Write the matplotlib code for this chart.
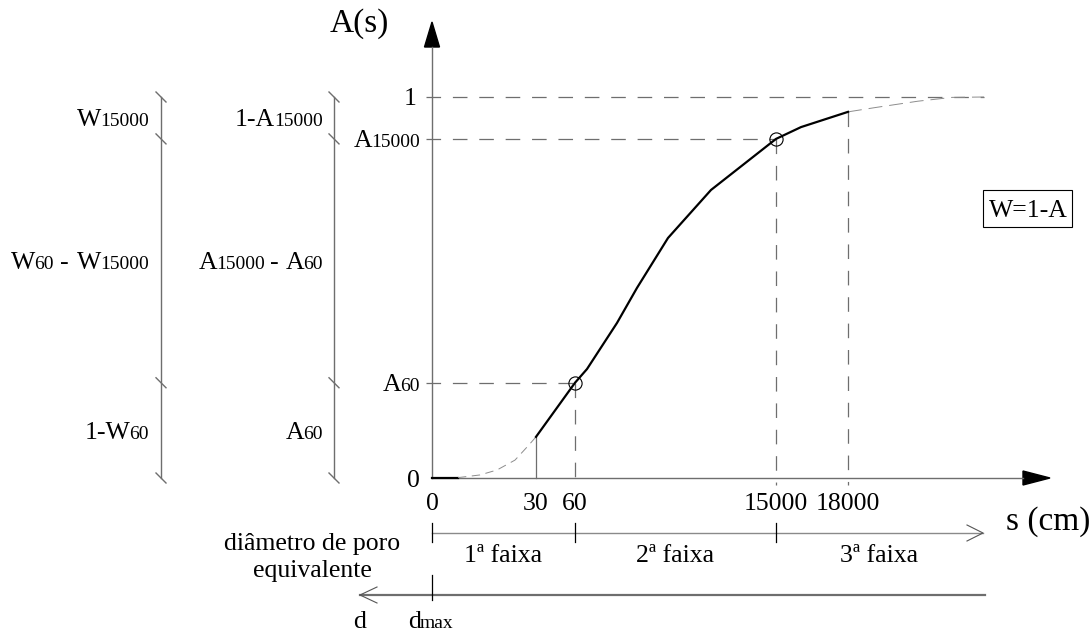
import matplotlib
matplotlib.use('Agg')
import matplotlib.pyplot as plt
from matplotlib.transforms import Affine2D, blended_transform_factory
from matplotlib.patches import Polygon, Rectangle

plt.rcParams['font.family'] = ['Liberation Serif', 'DejaVu Serif']
plt.rcParams['lines.scale_dashes'] = False

# retention curve A(s); x is the position along the (schematic, not to scale) s axis
s_ticks = ['0', '30', '60', '15000', '18000']
s_pos = [0, 104, 143, 344, 416]

curve_pos = [104, 143, 155, 185, 205, 236, 279, 344, 369, 416]
curve_a = [0.108, 0.25, 0.286, 0.407, 0.499, 0.630, 0.756, 0.89, 0.921, 0.961]

# extrapolated ends of the curve (dashed)
low_pos = [26, 48, 65, 83, 96, 104]
low_a = [0.001, 0.008, 0.021, 0.047, 0.084, 0.108]
high_pos = [416, 445, 486, 520, 552]
high_a = [0.961, 0.973, 0.989, 0.999, 1.0]

a60 = 0.25
a15000 = 0.89

faixas = ['1ª faixa', '2ª faixa', '3ª faixa']

W, H = 1092, 634
OX, OY, UNIT = 432, 478, 381     # origin of the graph in pixels, pixels per unit of A
L, S, BIG = 18.5, 14, 24         # normal, "subscript" and axis title font sizes
GRAY = '#6e6e6e'
DASH = (0, (10.5, 8.5))

fig = plt.figure(figsize=(W / 100, H / 100), dpi=100)
ax = fig.add_axes([0, 0, 1, 1])
ax.set_xlim(-OX, W - OX)
ax.set_ylim(-(H - OY) / UNIT, OY / UNIT)
ax.axis('off')

pix = Affine2D().scale(1 / W, -1 / H).translate(0, 1) + fig.transFigure
xdata = blended_transform_factory(ax.transData, pix)


def ypx(v):
    return OY - UNIT * v


def rich(x, y, parts, ha='left', trans=pix):
    # text made of pieces of different size sharing one baseline
    r = fig.canvas.get_renderer()
    items = []
    for s, size, gap in parts:
        t = fig.text(0, 0, s, fontsize=size)
        w = t.get_window_extent(r).width
        t.remove()
        items.append((s, size, w, gap))
    total = sum(w + g for _, _, w, g in items) - items[-1][3]
    dx = {'left': 0, 'right': -total, 'center': -total / 2}[ha]
    for s, size, w, gap in items:
        ax.text(x, y, s, fontsize=size, ha='left', va='baseline',
                transform=trans + Affine2D().translate(dx, 0))
        dx += w + gap


# axes with filled arrow heads
ax.plot([OX, 1023], [OY, OY], color=GRAY, lw=1, transform=pix)
ax.plot([OX, OX], [OY, 47], color=GRAY, lw=1, transform=pix)
ax.add_patch(Polygon([[1050, OY], [1023, OY - 7], [1023, OY + 7]], closed=True,
                     color='black', transform=pix))
ax.add_patch(Polygon([[OX, 22], [OX - 7.5, 47], [OX + 7.5, 47]], closed=True,
                     color='black', transform=pix))

# reference lines
ax.plot([-6, high_pos[-1]], [1, 1], color=GRAY, lw=0.9, ls=DASH)
ax.plot([-6, s_pos[3]], [a15000, a15000], color=GRAY, lw=0.9, ls=DASH)
ax.plot([-6, s_pos[2]], [a60, a60], color=GRAY, lw=0.9, ls=DASH)
ax.plot([s_pos[2], s_pos[2]], [a60, 0], color=GRAY, lw=0.9, ls=DASH)
ax.plot([s_pos[3], s_pos[3]], [a15000, -7 / UNIT], color=GRAY, lw=0.9, ls=DASH)
ax.plot([s_pos[4], s_pos[4]], [curve_a[-1], -7 / UNIT], color=GRAY, lw=0.9, ls=DASH)
ax.plot([s_pos[1], s_pos[1]], [curve_a[0], 0], color=GRAY, lw=0.9)

# curve
ax.plot([0, low_pos[0]], [0, 0], color='black', lw=1.6)
ax.plot(low_pos, low_a, color='#8c8c8c', lw=0.7, ls=(0, (6, 4)))
ax.plot(high_pos, high_a, color='#8c8c8c', lw=0.7, ls=(0, (10, 5)))
ax.plot(curve_pos, curve_a, color='black', lw=1.6, solid_joinstyle='round')
ax.plot([s_pos[2], s_pos[3]], [a60, a15000], 'o', ms=9.5, mfc='none', mec='black', mew=0.8)

# axis labels and ticks
for lab, p in zip(s_ticks, s_pos):
    ax.text(p, 510, lab, fontsize=L, ha='center', va='baseline', transform=xdata)
ax.text(389, 32, 'A(s)', fontsize=BIG, ha='right', va='baseline', transform=pix)
ax.text(1006, 530, 's (cm)', fontsize=BIG, ha='left', va='baseline', transform=pix)
rich(417, ypx(1) + 8, [('1', L, 0)], ha='right')
rich(420, ypx(a15000) + 8, [('A', L, -1), ('15000', S, 0)], ha='right')
rich(420, ypx(a60) + 8, [('A', L, -1), ('60', S, 0)], ha='right')
rich(420, ypx(0) + 9, [('0', L, 0)], ha='right')

# dimension lines on the left
for xd in (161, 334):
    ax.plot([xd, xd], [ypx(1), ypx(0)], color=GRAY, lw=1, transform=pix)
    for v in (1, a15000, a60, 0):
        y = ypx(v)
        ax.plot([xd - 5, xd + 5], [y - 5, y + 5], color=GRAY, lw=1, transform=pix)

rows = [(ypx((1 + a15000) / 2) + 8,
         [('W', L, -1), ('15000', S, 0)],
         [('1-A', L, -1), ('15000', S, 0)]),
        (ypx((a15000 + a60) / 2) + 8,
         [('W', L, -1), ('60', S, 7), ('-', L, 8), ('W', L, -1), ('15000', S, 0)],
         [('A', L, -1), ('15000', S, 5), ('-', L, 7), ('A', L, -1), ('60', S, 0)]),
        (ypx(a60 / 2) + 9,
         [('1-W', L, -1), ('60', S, 0)],
         [('A', L, -1), ('60', S, 0)])]
for y, left, right in rows:
    rich(149, y, left, ha='right')
    rich(323, y, right, ha='right')

# bands of suction below the axis
ax.plot([OX, 983], [533, 533], color='#8a8a8a', lw=1, transform=pix)
ax.plot([967, 983, 967], [525, 533, 541], color='#555555', lw=0.8, transform=pix)
for p in s_pos[0], s_pos[2], s_pos[3]:
    ax.plot([p, p], [523, 542], color='black', lw=0.9, transform=xdata)
bounds = [s_pos[0], s_pos[2], s_pos[3], 983 - OX]
for i, lab in enumerate(faixas):
    ax.text((bounds[i] + bounds[i + 1]) / 2, 562, lab, fontsize=L, ha='center',
            va='baseline', transform=xdata)

# equivalent pore diameter axis, pointing the other way
ax.plot([985, 360], [595, 595], color=GRAY, lw=1.6, transform=pix)
ax.plot([377, 360, 377], [587, 595, 603], color='#555555', lw=0.8, transform=pix)
ax.plot([OX, OX], [575, 600], color='black', lw=0.9, transform=pix)
ax.text(312, 550, 'diâmetro de poro', fontsize=L, ha='center', va='baseline', transform=pix)
ax.text(312, 577, 'equivalente', fontsize=L, ha='center', va='baseline', transform=pix)
ax.text(360, 628, 'd', fontsize=L, ha='center', va='baseline', transform=pix)
rich(431, 628, [('d', L, -1), ('max', S, 0)], ha='center')

# W = 1 - A note
ax.add_patch(Rectangle((983, 190), 89, 37, fill=False, ec='black', lw=0.8, transform=pix))
ax.text(1028, 217, 'W=1-A', fontsize=L, ha='center', va='baseline', transform=pix)

fig.savefig('out.png', dpi=100)
